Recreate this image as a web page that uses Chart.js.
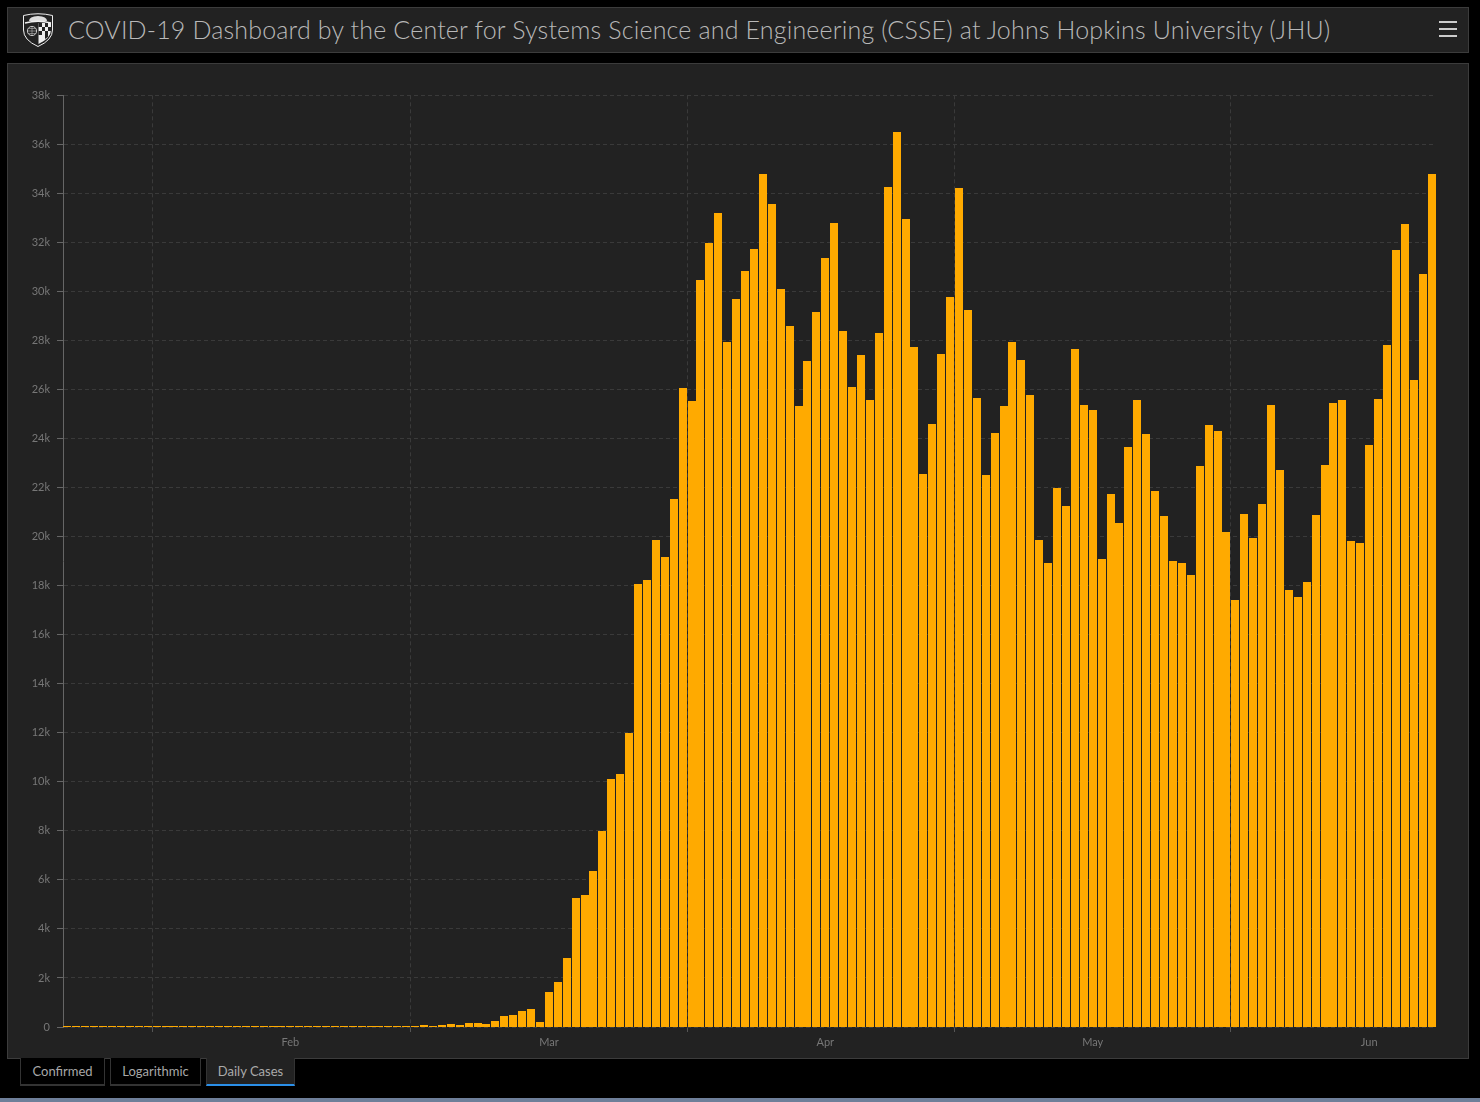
<!DOCTYPE html>
<html>
<head>
<meta charset="utf-8">
<script src="https://cdn.jsdelivr.net/npm/chart.js@4"></script>
<style>
html,body{margin:0;padding:0;background:#000;width:1480px;height:1102px;overflow:hidden;font-family:Lato,sans-serif}
.box{position:absolute;box-sizing:border-box;background:#222;border:1px solid #3c3c3c}
#head{left:7px;top:7px;width:1462px;height:46px}
#title{position:absolute;left:68px;top:12px;font-size:25px;font-weight:300;line-height:34px;color:#b8b8b8;white-space:nowrap;letter-spacing:.17px}
#panel{left:7px;top:63px;width:1462px;height:996px}
canvas{position:absolute;left:8px;top:64px}
#logo{position:absolute;left:22px;top:13px}
.bar{position:absolute;left:1439px;width:18px;height:2px;background:#ccc}
.tab{position:absolute;top:1058px;height:28px;box-sizing:border-box;border:1px solid #333;border-top:none;border-bottom:2px solid #333;color:#a8a8a8;font-size:13px;line-height:26px;text-align:center;background:#000}
.tab.on{background:#222;border-bottom:2px solid #2b8fe8;color:#aaa}
#strip{position:absolute;left:0;top:1098px;width:1480px;height:4px;background:#6e7f99}
</style>
</head>
<body>
<div id="head" class="box"></div>
<svg id="logo" width="32" height="34" viewBox="0 0 32 34">
  <path d="M1.5 2.5 Q16 -1 30.5 2.5 L30.5 17 Q30.5 27 16 33.5 Q1.5 27 1.5 17 Z" fill="none" stroke="#eee" stroke-width="1"/>
  <path d="M7 8 Q7 3.5 16 3 Q25 3.5 25 8 Z" fill="#ddd"/>
  <path d="M3 10 Q16 6.5 29 10" fill="none" stroke="#eee" stroke-width="1.4"/>
  <circle cx="10" cy="18" r="4.6" fill="none" stroke="#ccc" stroke-width="1"/>
  <path d="M5.4 18 H14.6 M10 13.4 V22.6 M6.4 15.5 H13.6 M6.4 20.5 H13.6" stroke="#bbb" stroke-width=".6"/>
  <path d="M16.5 10 H29 V17 Q29 25 16.5 31 Z" fill="#eee"/>
  <path d="M16.5 10 H20 V14 H16.5 Z M23 10 H26 V14 H23 Z M20 14 H23 V18 H20 Z M26 14 H29 V18 H26 Z M16.5 18 H20 V22 H16.5 Z M23 18 H26 V24 L23 26 Z" fill="#222"/>
</svg>
<div id="title">COVID-19 Dashboard by the Center for Systems Science and Engineering (CSSE) at Johns Hopkins University (JHU)</div>
<div class="bar" style="top:21px"></div>
<div class="bar" style="top:28px"></div>
<div class="bar" style="top:35px"></div>
<div id="panel" class="box"></div>
<canvas id="c" width="1460" height="994"></canvas>
<div class="tab" style="left:20px;width:85px">Confirmed</div>
<div class="tab" style="left:110px;width:91px">Logarithmic</div>
<div class="tab on" style="left:206px;width:89px">Daily Cases</div>
<div id="strip"></div>
<script>
const startDate = "2020-01-22";
const dailyCases = [
 1,0,1,0,3,0,0,0,0,2,
 1,0,3,0,0,0,0,0,1,0,
 0,0,0,0,0,0,0,0,0,0,
 0,0,0,0,0,0,20,0,0,6,
 70,20,70,110,70,150,150,115,230,430,
 475,640,720,190,1410,1820,2800,5260,5380,6360,
 7990,10110,10310,11990,18060,18220,19850,19160,21520,26050,
 25520,30450,31960,33180,27920,29680,30820,31720,34780,33550,
 30090,28580,25320,27150,29150,31350,32780,28370,26090,27400,
 25560,28290,34250,36490,32940,27720,22550,24580,27440,29760,
 34210,29230,25640,22500,24220,25320,27930,27190,25770,19850,
 18920,21970,21240,27640,25360,25150,19080,21730,20550,23650,
 25560,24180,21850,20830,19000,18920,18430,22870,24540,24300,
 20180,17410,20910,19940,21320,25360,22710,17820,17530,18140,
 20870,22910,25440,25560,19810,19730,23730,25600,27800,31680,
 32740,26380,30700,34780];
const categories = dailyCases.map((_, i) => {
  const d = new Date(startDate + "T00:00:00Z");
  d.setUTCDate(d.getUTCDate() + i);
  return d.toISOString().slice(0, 10);
});
const tickLabels = {"2020-02-16":"Feb","2020-03-16":"Mar","2020-04-16":"Apr","2020-05-16":"May","2020-06-16":"Jun"};
const monthStarts = ["2020-02-01","2020-03-01","2020-04-01","2020-05-01","2020-06-01"];
const isMonth = ctx => monthStarts.includes(categories[ctx.index]);

// keep bar edges on whole pixels so the one-pixel gaps stay sharp
const snapBars = {
  id: 'snapBars',
  beforeDatasetsDraw(chart) {
    chart.getDatasetMeta(0).data.forEach(el => {
      const left = Math.round(el.x - el.width / 2);
      el.width = 8;
      el.x = left + 4;
      el.y = Math.round(el.y);
      el.base = Math.round(el.base);
    });
  }
};

new Chart(document.getElementById('c'), {
  type: 'bar',
  plugins: [snapBars],
  data: {labels: categories, datasets: [{data: dailyCases, backgroundColor: '#ffaa00', borderWidth: 0,
    inflateAmount: 0, barPercentage: 0.9, categoryPercentage: 1, minBarLength: 1}]},
  options: {
    responsive: false, animation: false, devicePixelRatio: 1,
    layout: {padding: {left: 0, right: 32, top: 31.3, bottom: 0}},
    plugins: {legend: {display: false}, tooltip: {enabled: false}, title: {display: false}},
    scales: {
      x: {
        type: 'category', offset: true,
        afterFit(s){ s.height = 31; },
        border: {display: false, dash: [4, 3]},
        grid: {offset: true,
          color: c => isMonth(c) ? '#3a3a3a' : 'rgba(0,0,0,0)',
          lineWidth: c => isMonth(c) ? 1 : 0,
          tickColor: c => isMonth(c) ? '#555' : 'rgba(0,0,0,0)',
          tickLength: 5},
        ticks: {autoSkip: false, maxRotation: 0, minRotation: 0, padding: 4, color: '#777',
          font: {family: 'Lato', size: 11},
          callback(v, i){ return tickLabels[categories[i]] || ''; }}
      },
      y: {
        min: 0, max: 38000,
        afterFit(s){ s.width = 55; },
        border: {color: '#666', dash: [4, 3]},
        grid: {color: '#3a3a3a', tickColor: '#666', tickLength: 6, tickBorderDash: []},
        ticks: {stepSize: 2000, padding: 7, color: '#777', font: {family: 'Lato', size: 11},
          callback(v){ return v === 0 ? '0' : (v / 1000) + 'k'; }}
      }
    }
  }
});
</script>
</body>
</html>
